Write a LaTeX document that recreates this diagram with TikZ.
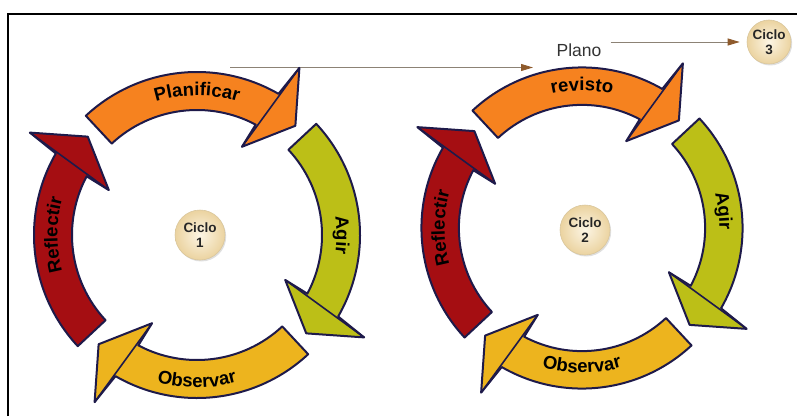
\documentclass[tikz,border=0pt]{standalone}
\usepackage{fontspec}
\setmainfont{Liberation Sans}
\usetikzlibrary{calc,arrows.meta,decorations.text,shadows}
\newcommand{\unitsize}{1pt}
\definecolor{planorange}{HTML}{F6821F}
\definecolor{agirgreen}{HTML}{BCBF17}
\definecolor{obsyellow}{HTML}{EDB41E}
\definecolor{reflred}{HTML}{A50E12}
\definecolor{bandline}{HTML}{1E1A4A}
\definecolor{linkgray}{HTML}{8C8275}
\definecolor{linkbrown}{HTML}{8E5A2C}
\definecolor{cicloinner}{HTML}{FCF5E4}
\definecolor{ciclofill}{HTML}{EBD3A0}
\definecolor{ciclorim}{HTML}{D9C69C}
\newcommand{\bandfont}{\fontsize{18.5}{22}\selectfont\bfseries}
\newcommand{\cyclearrow}[4]{
	\begin{scope}[shift={(#1)}, scale=#2]
	\filldraw[fill=#4, draw=bandline, line width=2pt, line join=round]
		({#3+43}:163) arc[start angle={#3+43}, end angle={#3-30}, radius=163]
		-- ({#3-31.5}:196) -- ({#3-42}:147) -- ({#3-27}:99) -- ({#3-28}:125)
		arc[start angle={#3-28}, end angle={#3+43}, radius=125] -- cycle;
	\draw[bandline, line width=1.6pt] ({#3-31.5}:196) -- ({#3-27}:99);
	\end{scope}
}
\newcommand{\bandlabel}[6]{
	\path[shift={(#1)}, scale=#2, decorate,
		decoration={text along path, text align=center, text={|\bandfont|#6}}]
		({#3}:#5) arc[start angle={#3}, end angle={#4}, radius=#5];
}

\begin{document}
\begin{tikzpicture}[x=\unitsize,y=\unitsize,
	ciclo/.style={circle, minimum size=50pt, inner sep=0pt, draw=ciclorim, line width=0.6pt,
		inner color=cicloinner, outer color=ciclofill,
		drop shadow={shadow xshift=1.2pt, shadow yshift=-1.5pt, opacity=0.25},
		font=\fontsize{13.5}{14.5}\selectfont\bfseries, text=black!85, align=center},
	plano/.style={font=\fontsize{17.5}{20}\selectfont, text=black!80, inner sep=1pt},
	link/.style={draw=linkgray, line width=0.9pt,
		-{Triangle[length=12pt, width=7pt, color=linkbrown]}}]
	\useasboundingbox (0,0) rectangle (797,416);
	\draw[line width=2.2pt] (8,0) -- (8,402) -- (797,402);

	\coordinate (r1) at (197,181);
	\coordinate (r2) at (582,188);
	\coordinate (p1) at (230,348.5);
	\coordinate (p2) at (533,348.5);

	\node[ciclo] (c1) at (200,181) {Ciclo\\1};
	\node[ciclo] (c2) at (585,186) {Ciclo\\2};
	\node[ciclo, minimum size=44pt] (c3) at (769,374) {Ciclo\\3};
	\node[plano] (plano) at (579,366) {Plano};

	\draw[link] (p1) -- (p2);
	\draw[link, shorten <=8pt, shorten >=7pt] (plano.east |- c3.west) -- (c3.west);

	% cycle 1
	\cyclearrow{r1}{1}{90}{planorange}
	\cyclearrow{r1}{1}{0}{agirgreen}
	\cyclearrow{r1}{1}{-90}{obsyellow}
	\cyclearrow{r1}{1}{180}{reflred}
	\bandlabel{r1}{1}{120}{60}{139.5}{Planificar}
	\bandlabel{r1}{1}{30}{-30}{139.5}{Agir}
	\bandlabel{r1}{1}{-120}{-60}{152.5}{Observar}
	\bandlabel{r1}{1}{210}{150}{139.5}{Reflectir}

	% cycle 2
	\cyclearrow{r2}{0.985}{90}{planorange}
	\cyclearrow{r2}{0.985}{0}{agirgreen}
	\cyclearrow{r2}{0.985}{-90}{obsyellow}
	\cyclearrow{r2}{0.985}{180}{reflred}
	\bandlabel{r2}{0.985}{120}{60}{139.5}{revisto}
	\bandlabel{r2}{0.985}{37}{-23}{139.5}{Agir}
	\bandlabel{r2}{0.985}{-120}{-60}{147}{Observar}
	\bandlabel{r2}{0.985}{210}{150}{139.5}{Reflectir}

	\end{tikzpicture}
\end{document}
